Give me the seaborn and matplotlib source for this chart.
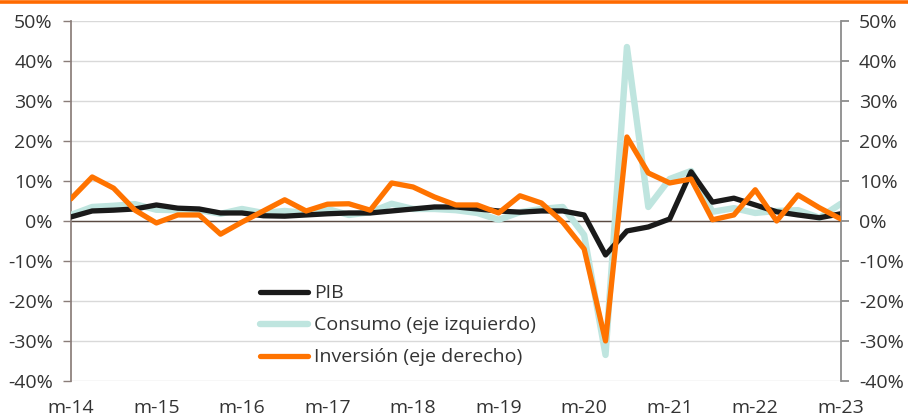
import numpy as np
import pandas as pd
import matplotlib
matplotlib.use("Agg")
import matplotlib.pyplot as plt
from matplotlib.lines import Line2D
import seaborn as sns

# ------------------------
# Data (quarterly, Q1-2014 .. Q1-2023, % yoy)
# ------------------------
tick_labels = ["m-14", "m-15", "m-16", "m-17", "m-18",
               "m-19", "m-20", "m-21", "m-22", "m-23"]

pib = [1.0, 2.5, 2.7, 3.0, 4.0, 3.2, 3.0, 2.0, 2.0, 1.3,
       1.2, 1.5, 1.8, 2.0, 2.0, 2.5, 3.0, 3.5, 3.5, 3.0,
       2.5, 2.2, 2.5, 2.5, 1.5, -8.5, -2.5, -1.5, 0.5, 12.3,
       4.7, 5.7, 4.0, 2.3, 1.5, 0.8, 1.8]

consumo = [1.5, 3.5, 3.8, 4.2, 2.8, 2.7, 2.7, 1.8, 3.0, 2.0,
           2.5, 2.0, 3.0, 1.5, 2.2, 4.3, 3.0, 3.0, 2.7, 2.0,
           0.3, 2.2, 3.0, 3.5, -3.5, -33.5, 43.5, 3.5, 10.5, 12.5,
           2.3, 3.2, 2.0, 2.5, 2.7, 0.8, 4.3]

inversion = [5.5, 11.0, 8.2, 2.7, -0.5, 1.5, 1.5, -3.3, -0.3, 2.5,
             5.3, 2.5, 4.2, 4.3, 2.7, 9.5, 8.5, 6.0, 4.0, 4.0,
             2.0, 6.3, 4.5, -0.3, -7.0, -30.0, 21.0, 12.0, 9.5, 10.5,
             0.3, 1.5, 7.8, 0.0, 6.5, 3.3, 0.5]

df = pd.DataFrame({
    "q": np.arange(len(pib)),
    "PIB": pib,
    "Consumo": consumo,
    "Inversion": inversion,
})

# ------------------------
# Style
# ------------------------
sns.set_theme(style="white")
plt.rcParams["font.family"] = ["Open Sans", "DejaVu Sans"]
plt.rcParams["text.color"] = "#333333"

c_pib = "#1a1a1a"
c_cons = "#bfe5df"
c_inv = "#ff7300"
fs = 14

fig = plt.figure(figsize=(9.08, 4.2), dpi=100)
ax = fig.add_axes([0.078, 0.093, 0.848, 0.857])
ax2 = ax.twinx()

sns.lineplot(data=df, x="q", y="Consumo", ax=ax, color=c_cons, lw=4.6,
             zorder=3, label="Consumo (eje izquierdo)", legend=False)
sns.lineplot(data=df, x="q", y="PIB", ax=ax, color=c_pib, lw=3.8,
             zorder=4, label="PIB", legend=False)
sns.lineplot(data=df, x="q", y="Inversion", ax=ax2, color=c_inv, lw=3.8,
             zorder=5, label="Inversión (eje derecho)", legend=False)
for a in (ax, ax2):
    for ln in a.get_lines():
        ln.set_solid_joinstyle("round")
        ln.set_solid_capstyle("round")

yt = np.arange(-40, 51, 10)
for a in (ax, ax2):
    a.set_ylim(-40, 50)
    a.set_yticks(yt)
    a.set_yticklabels([f"{v}%" for v in yt])
    a.set_xlim(0, 36)
    a.set_xlabel("")
    a.set_ylabel("")
    for s in a.spines.values():
        s.set_visible(False)

ax.set_xticks(np.arange(0, 37, 4))
ax.set_xticklabels(tick_labels)
ax.grid(axis="y", color="#d9d9d9", lw=1)
ax.axhline(0, color="#5a4a42", lw=1, zorder=2)
ax.set_axisbelow(True)

ax.spines["left"].set_visible(True)
ax.spines["left"].set_color("#8a7d79")
ax.tick_params(axis="y", left=True, length=6, width=1, color="#8a7d79",
               pad=7, labelsize=fs, labelcolor="#333333")
ax.tick_params(axis="x", bottom=False, pad=7, labelsize=fs,
               labelcolor="#333333")

ax2.spines["right"].set_visible(True)
ax2.spines["right"].set_color("#8c8c8c")
ax2.spines["right"].set_linewidth(1.3)
ax2.tick_params(axis="y", right=True, length=6, width=1.3, color="#8c8c8c",
                pad=7, labelsize=fs, labelcolor="#333333")

# legend: PIB, Consumo, Inversion
handles = [ax.get_lines()[1], ax.get_lines()[0], ax2.get_lines()[0]]
labels = ["PIB", "Consumo (eje izquierdo)", "Inversión (eje derecho)"]
leg = ax2.legend(handles, labels, loc="upper left",
                 bbox_to_anchor=(0.235, 0.29), frameon=False,
                 fontsize=fs, handlelength=2.5, handletextpad=0.3,
                 labelspacing=0.72, borderaxespad=0)

# orange band on top of figure
fig.add_artist(Line2D([0, 1], [0.995, 0.995], color="#ff6a00", lw=2.6,
                      transform=fig.transFigure))

fig.savefig("out.png", dpi=100)
